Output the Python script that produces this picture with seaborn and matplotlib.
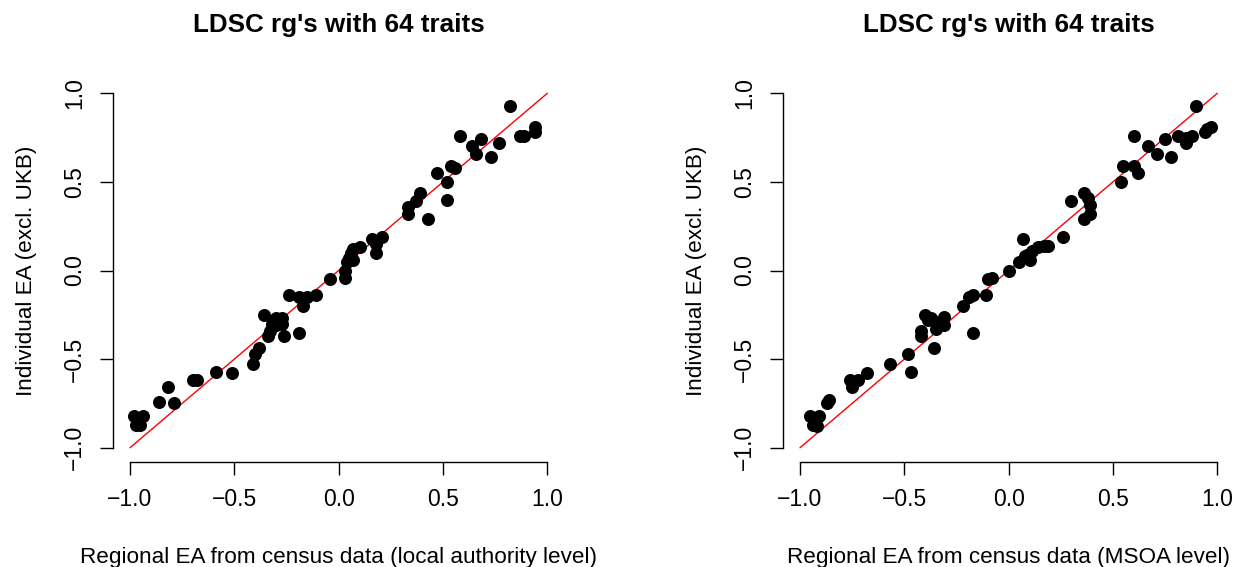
import numpy as np
import pandas as pd
import matplotlib
matplotlib.use("Agg")
import matplotlib.pyplot as plt
import seaborn as sns

# Genetic correlations (LDSC rg) of 64 traits with regional vs individual EA
la_x = [-0.98, -0.94, -0.97, -0.95, -0.86, -0.82, -0.79, -0.70, -0.68, -0.59,
        -0.51, -0.41, -0.40, -0.38, -0.36, -0.34, -0.33, -0.32, -0.30, -0.30,
        -0.28, -0.27, -0.27, -0.26, -0.24, -0.19, -0.19, -0.17, -0.15, -0.11,
        -0.04, 0.03, 0.03, 0.04, 0.05, 0.06, 0.07, 0.07, 0.10, 0.16,
        0.18, 0.18, 0.21, 0.33, 0.33, 0.37, 0.39, 0.43, 0.47, 0.52,
        0.52, 0.54, 0.56, 0.58, 0.64, 0.66, 0.68, 0.73, 0.77, 0.82,
        0.87, 0.89, 0.94, 0.94]
la_y = [-0.82, -0.82, -0.87, -0.87, -0.74, -0.66, -0.75, -0.62, -0.62, -0.57,
        -0.58, -0.53, -0.47, -0.44, -0.25, -0.37, -0.34, -0.30, -0.27, -0.31,
        -0.29, -0.27, -0.30, -0.37, -0.14, -0.35, -0.15, -0.20, -0.15, -0.14,
        -0.05, -0.04, 0.00, 0.05, 0.07, 0.10, 0.12, 0.06, 0.13, 0.18,
        0.10, 0.15, 0.19, 0.36, 0.32, 0.39, 0.44, 0.29, 0.55, 0.50,
        0.40, 0.59, 0.58, 0.76, 0.70, 0.66, 0.74, 0.64, 0.72, 0.93,
        0.76, 0.76, 0.78, 0.81]

msoa_x = [-0.95, -0.91, -0.94, -0.92, -0.87, -0.86, -0.76, -0.75, -0.72, -0.68,
          -0.57, -0.48, -0.47, -0.40, -0.42, -0.42, -0.385, -0.37, -0.35, -0.34,
          -0.31, -0.31, -0.36, -0.22, -0.19, -0.17, -0.17, -0.11, -0.10, -0.08,
          0.00, 0.05, 0.07, 0.08, 0.09, 0.10, 0.11, 0.14, 0.17, 0.19,
          0.26, 0.30, 0.36, 0.36, 0.38, 0.39, 0.39, 0.54, 0.55, 0.60,
          0.62, 0.60, 0.67, 0.71, 0.75, 0.78, 0.81, 0.85, 0.85, 0.88,
          0.90, 0.94, 0.95, 0.97]
msoa_y = [-0.82, -0.82, -0.87, -0.88, -0.75, -0.73, -0.62, -0.66, -0.62, -0.58,
          -0.53, -0.47, -0.57, -0.25, -0.34, -0.37, -0.28, -0.27, -0.33, -0.29,
          -0.26, -0.31, -0.44, -0.20, -0.15, -0.14, -0.35, -0.14, -0.05, -0.04,
          0.00, 0.05, 0.18, 0.08, 0.09, 0.06, 0.11, 0.13, 0.14, 0.14,
          0.19, 0.39, 0.44, 0.29, 0.41, 0.32, 0.37, 0.50, 0.59, 0.59,
          0.55, 0.76, 0.70, 0.66, 0.74, 0.64, 0.76, 0.72, 0.75, 0.76,
          0.93, 0.78, 0.80, 0.81]

title = "LDSC rg's with 64 traits"
ylabel = "Individual EA (excl. UKB)"
xlabels = ["Regional EA from census data (local authority level)",
           "Regional EA from census data (MSOA level)"]
ticks = [-1.0, -0.5, 0.0, 0.5, 1.0]
tick_labels = ["\u22121.0", "\u22120.5", "0.0", "0.5", "1.0"]
diag = [-1.0, 1.0]

sns.set_theme(style="white")
plt.rcParams["font.family"] = ["Liberation Sans", "DejaVu Sans"]

W, H = 1233, 567
fig = plt.figure(figsize=(W / 100, H / 100), dpi=100)

panels = [(la_x, la_y, xlabels[0], 113.3), (msoa_x, msoa_y, xlabels[1], 783.3)]
ax_w, ax_h = 450.7, 382.8
ax_top = 79.1

for xs, ys, xl, left in panels:
    ax = fig.add_axes([left / W, 1 - (ax_top + ax_h) / H, ax_w / W, ax_h / H])
    df = pd.DataFrame({"x": xs, "y": ys})
    sns.lineplot(x=diag, y=diag, ax=ax, color="red", linewidth=1.0, zorder=1)
    sns.scatterplot(data=df, x="x", y="y", ax=ax, color="black", s=88,
                    edgecolor="black", linewidth=0, zorder=2)
    ax.set_xlim(-1.08, 1.08)
    ax.set_ylim(-1.08, 1.08)
    for side in ["top", "right"]:
        ax.spines[side].set_visible(False)
    for side in ["left", "bottom"]:
        ax.spines[side].set_color("black")
        ax.spines[side].set_linewidth(1.0)
    ax.spines["left"].set_bounds(-1, 1)
    ax.spines["bottom"].set_bounds(-1, 1)
    ax.set_xticks(ticks)
    ax.set_yticks(ticks)
    ax.set_xticklabels(tick_labels)
    ax.set_yticklabels(tick_labels, rotation=90, va="center")
    ax.tick_params(axis="both", which="major", direction="out", length=9.5,
                   width=1.0, color="black", labelsize=16.5, labelcolor="black",
                   bottom=True, left=True)
    ax.tick_params(axis="x", pad=9)
    ax.tick_params(axis="y", pad=10)
    ax.set_xlabel(xl, fontsize=16.2, color="black")
    ax.set_ylabel(ylabel, fontsize=16.2, color="black")
    ax.xaxis.set_label_coords(0.5, -0.222)
    ax.yaxis.set_label_coords(-0.17, 0.5)
    ax.grid(False)
    fig.text((left + ax_w / 2) / W, 1 - 25 / H, title, ha="center",
             va="center", fontsize=18.7, fontweight="bold", color="black")

fig.savefig("out.png", dpi=100, facecolor="white")
